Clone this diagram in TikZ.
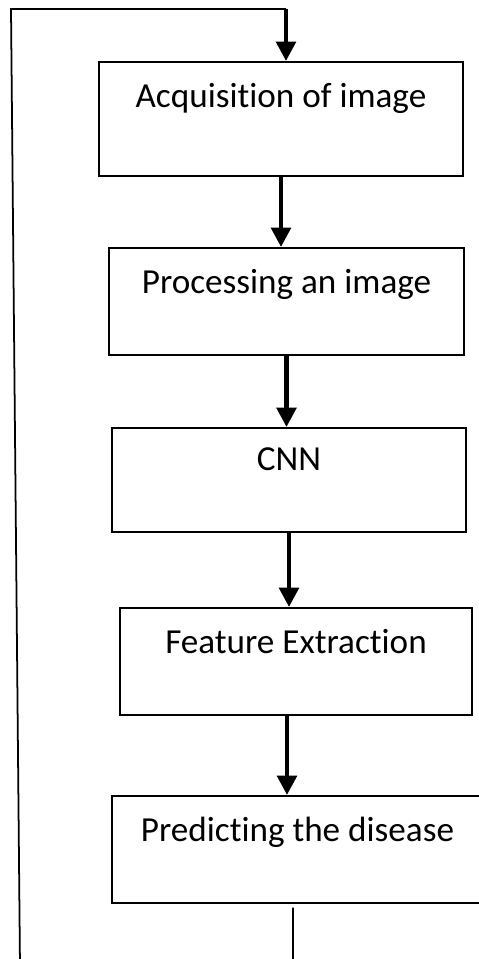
\documentclass[tikz,border=0pt]{standalone}
\usepackage{fontspec}
\setmainfont{Carlito}[Ligatures=NoCommon]
\usepackage{tikz}
\usetikzlibrary{arrows.meta,positioning}

\begin{document}
\begin{tikzpicture}[
  every node/.style={font=\fontsize{30}{36}\selectfont},
  stage/.style={draw,line width=1.6pt,inner sep=0pt,anchor=north,text height=1.36cm,text depth=1.84cm,align=center},
  arr/.style={-{Triangle[width=0.58cm,length=0.58cm]},line width=3.8pt},
  fb/.style={line width=1.5pt}
]
\useasboundingbox (0,0) rectangle (14.34,-28.77);

\node[stage,minimum width=10.92cm,text depth=2.06cm] (acq) at (8.43,-1.83) {Acquisition of image};
\node[stage,minimum width=10.65cm] (proc) at (8.595,-7.41) {Processing an image};
\node[stage,minimum width=10.62cm,text height=1.29cm] (cnn) at (8.67,-12.81) {CNN};
\node[stage,minimum width=10.56cm] (feat) at (8.88,-18.21) {Feature Extraction};
\node[stage,minimum width=11.13cm] (pred) at (8.925,-23.85) {Predicting the disease};

\draw[arr] (acq.south) -- (acq.south |- proc.north);
\draw[arr] (proc.south) -- (proc.south |- cnn.north);
\draw[arr] (cnn.south) -- (cnn.south |- feat.north);
\draw[arr] ([xshift=-0.27cm]feat.south) -- ([xshift=-0.27cm]feat.south |- pred.north);

% Feedback loop
\coordinate (outbot) at (8.79,-29);
\coordinate (loopbot) at (0.6,-29);
\coordinate (looptop) at (0.33,-0.27);
\coordinate (bend) at ([xshift=0.15cm]acq.north |- looptop);
\draw[fb] ([xshift=-0.135cm,yshift=-0.12cm]pred.south) -- (outbot);
\draw[fb] (loopbot) -- (looptop) -- (bend);
\draw[arr] (bend) -- ([xshift=0.15cm]acq.north);
\end{tikzpicture}
\end{document}
